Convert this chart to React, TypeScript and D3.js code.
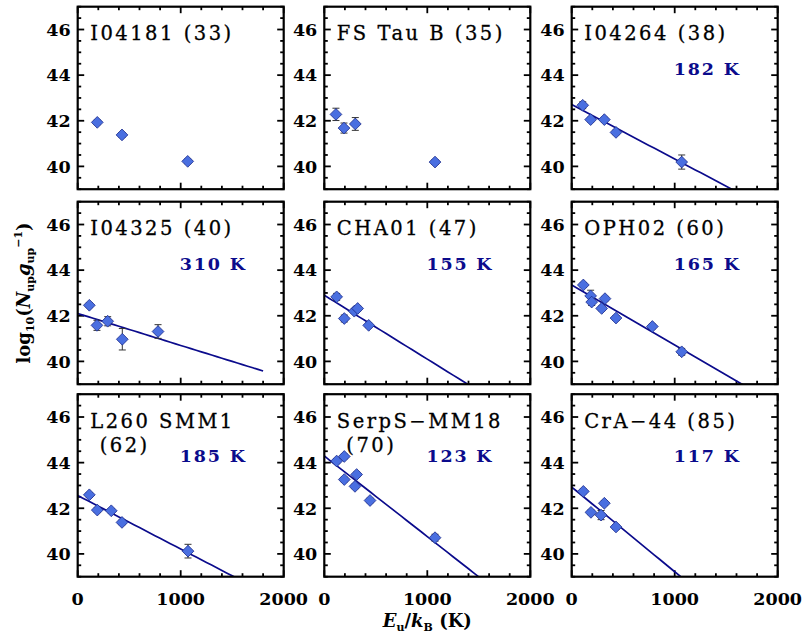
import React from "react";
import * as d3 from "d3";

// ---------- data ----------
const titleLines: string[][] = [
  ["I04181 (33)"],
  ["FS Tau B (35)"],
  ["I04264 (38)"],
  ["I04325 (40)"],
  ["CHA01 (47)"],
  ["OPH02 (60)"],
  ["L260 SMM1", "(62)"],
  ["SerpS\u2212MM18", "(70)"],
  ["CrA\u221244 (85)"],
];
// rotational temperature (K); null = no fit
const tempsK: (number | null)[] = [null, null, 182, 310, 155, 165, 185, 123, 117];
// fit intercept log10(N/g) at Eu = 0
const intercepts: (number | null)[] = [null, null, 42.71, 42.1, 42.9, 43.35, 42.56, 44.29, 42.93];
// upper-level energies (K)
const euK: number[][] = [
  [190, 430, 1068],
  [113, 191, 301, 1075],
  [107, 184, 317, 430, 1068],
  [113, 187, 291, 433, 780],
  [120, 194, 291, 324, 431],
  [113, 184, 194, 291, 323, 430, 783, 1068],
  [113, 190, 326, 430, 1071],
  [120, 194, 194, 314, 298, 444, 1075],
  [113, 187, 285, 317, 430],
];
// log10(N_up / g_up)
const logNg: number[][] = [
  [41.93, 41.38, 40.22],
  [42.28, 41.68, 41.86, 40.19],
  [42.68, 42.05, 42.05, 41.49, 40.19],
  [42.46, 41.58, 41.76, 40.97, 41.31],
  [42.83, 41.88, 42.2, 42.32, 41.58],
  [43.35, 42.87, 42.6, 42.32, 42.75, 41.9, 41.53, 40.42],
  [42.59, 41.92, 41.89, 41.38, 40.12],
  [44.07, 44.27, 43.26, 43.48, 42.96, 42.34, 40.71],
  [42.74, 41.82, 41.7, 42.22, 41.18],
];
const errs: number[][] = [
  [0.1, 0.1, 0.1],
  [0.27, 0.22, 0.28, 0.1],
  [0.15, 0.1, 0.1, 0.1, 0.31],
  [0.1, 0.22, 0.2, 0.47, 0.3],
  [0.15, 0.15, 0.1, 0.1, 0.1],
  [0.1, 0.25, 0.15, 0.1, 0.1, 0.1, 0.1, 0.15],
  [0.1, 0.1, 0.1, 0.1, 0.3],
  [0.1, 0.1, 0.1, 0.1, 0.1, 0.1, 0.15],
  [0.1, 0.1, 0.2, 0.1, 0.1],
];
const xDomain = [0, 2000];
const yDomain = [39, 47];
const fitRange = [0, 1800];
const xMajor = [0, 1000, 2000];
const yMajor = [40, 42, 44, 46];

// ---------- layout ----------
const W = 804, H = 643;
const PW = 206, PH = 182.5;
const colX = [77.7, 324.3, 571.7];
const rowY = [6.7, 201.7, 394.2];
const NAVY = "#0b0b8c";
const FILL = "#4a6fe0";
const LN10 = Math.LN10;

function Panel({ i }: { i: number }) {
  const col = i % 3, row = Math.floor(i / 3);
  const x0 = colX[col], y0 = rowY[row];
  const x = d3.scaleLinear().domain(xDomain).range([0, PW]);
  const y = d3.scaleLinear().domain(yDomain).range([PH, 0]);
  const xMinor = d3.range(xDomain[0], xDomain[1] + 1, 200);
  const yMinor = d3.range(yDomain[0], yDomain[1] + 0.01, 0.5);
  const T = tempsK[i], a = intercepts[i];
  const line = d3.line<number>().x((e) => x(e)).y((e) => y((a as number) - e / ((T as number) * LN10)));
  const fitPts = d3.range(fitRange[0], fitRange[1] + 1, 50);
  const clipId = `clip${i}`;
  const diamond = d3.symbol().type(d3.symbolDiamond2).size(88)();
  const tk = "#000";
  return (
    <g transform={`translate(${x0},${y0})`}>
      <defs>
        <clipPath id={clipId}>
          <rect x={0} y={0} width={PW} height={PH} />
        </clipPath>
      </defs>
      {xMinor.map((v) => (
        <g key={"xm" + v} stroke={tk} strokeWidth={1.8}>
          <line x1={x(v)} x2={x(v)} y1={PH} y2={PH - (xMajor.includes(v) ? 6.5 : 3.5)} />
          <line x1={x(v)} x2={x(v)} y1={0} y2={xMajor.includes(v) ? 6.5 : 3.5} />
        </g>
      ))}
      {yMinor.map((v) => (
        <g key={"ym" + v} stroke={tk} strokeWidth={1.8}>
          <line x1={0} x2={yMajor.includes(v) ? 6.5 : 3.5} y1={y(v)} y2={y(v)} />
          <line x1={PW} x2={PW - (yMajor.includes(v) ? 6.5 : 3.5)} y1={y(v)} y2={y(v)} />
        </g>
      ))}
      {yMajor.map((v) => (
        <text key={"yl" + v} x={-7} y={y(v)} dy="0.36em" textAnchor="end"
          fontFamily="DejaVu Serif" fontWeight="bold" fontSize={17.5} fill="#000">{v}</text>
      ))}
      {row === 2 && xMajor.map((v) => (
        <text key={"xl" + v} x={x(v)} y={PH + 28} textAnchor="middle"
          fontFamily="DejaVu Serif" fontWeight="bold" fontSize={17.5} fill="#000">{v}</text>
      ))}
      {T !== null && a !== null && (
        <path d={line(fitPts) || ""} fill="none" stroke={NAVY} strokeWidth={1.7} clipPath={`url(#${clipId})`} />
      )}
      {euK[i].map((e, j) => {
        const er = errs[i][j];
        const cx = x(e);
        return (
          <g key={"eb" + j} stroke="#333" strokeWidth={1}>
            <line x1={cx} x2={cx} y1={y(logNg[i][j] - er)} y2={y(logNg[i][j] + er)} />
            <line x1={cx - 3.5} x2={cx + 3.5} y1={y(logNg[i][j] - er)} y2={y(logNg[i][j] - er)} />
            <line x1={cx - 3.5} x2={cx + 3.5} y1={y(logNg[i][j] + er)} y2={y(logNg[i][j] + er)} />
          </g>
        );
      })}
      {euK[i].map((e, j) => (
        <path key={"p" + j} d={diamond || ""} transform={`translate(${x(e)},${y(logNg[i][j])})`}
          fill={FILL} stroke="#1a2a8a" strokeWidth={0.8} />
      ))}
      <rect x={0} y={0} width={PW} height={PH} fill="none" stroke="#000" strokeWidth={2.2} />
      {titleLines[i].map((t, k) => (
        <text key={"t" + k} x={k === 0 ? 12.5 : 22} y={33.5 + k * 24} fontFamily="DejaVu Serif"
          fontSize={19.5} letterSpacing={2.5} fill="#000" stroke="#000" strokeWidth={0.3}
          style={{ whiteSpace: "pre" }}>{t}</text>
      ))}
      {T !== null && (
        <text x={169} y={68} textAnchor="end" fontFamily="DejaVu Serif" fontWeight="bold"
          fontSize={17.5} letterSpacing={1.8} fill={NAVY}>{`${T} K`}</text>
      )}
    </g>
  );
}

export default function App() {
  return (
    <svg width={W} height={H} style={{ position: "absolute", left: 0, top: 0, background: "#fff" }}>
      <rect x={0} y={0} width={W} height={H} fill="#fff" />
      {titleLines.map((_, i) => <Panel key={i} i={i} />)}
      <text x={colX[1] + PW / 2} y={627} textAnchor="middle" fontFamily="DejaVu Serif" fontWeight="bold" fontSize={18} fill="#000">
        <tspan fontStyle="italic">E</tspan>
        <tspan fontSize={11} dy={4}>u</tspan>
        <tspan dy={-4}>/</tspan>
        <tspan fontStyle="italic">k</tspan>
        <tspan fontSize={11} dy={4}>B</tspan>
        <tspan dy={-4}> (K)</tspan>
      </text>
      <text transform={`translate(30,${rowY[1] + PH / 2}) rotate(-90)`} textAnchor="middle"
        fontFamily="DejaVu Serif" fontWeight="bold" fontSize={18} fill="#000">
        <tspan>log</tspan>
        <tspan fontSize={11} dy={4}>10</tspan>
        <tspan dy={-4}>(</tspan>
        <tspan fontStyle="italic">N</tspan>
        <tspan fontSize={11} dy={4}>up</tspan>
        <tspan dy={-4} fontStyle="italic">g</tspan>
        <tspan fontSize={11} dy={4}>up</tspan>
        <tspan fontSize={11} dy={-12}>−1</tspan>
        <tspan dy={8}>)</tspan>
      </text>
    </svg>
  );
}
